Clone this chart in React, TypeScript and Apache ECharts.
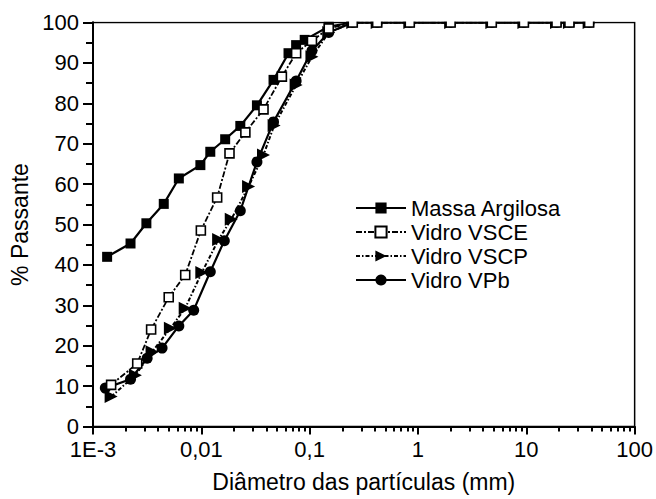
import React, { useEffect, useRef } from "react";
import * as echarts from "echarts";

// Particle-size distributions (diameter in mm, cumulative % passing)
const massaDiam = [0.00135, 0.00222, 0.00311, 0.0045, 0.0062, 0.0098, 0.0121, 0.0166, 0.0229, 0.0326, 0.0464, 0.0638, 0.075, 0.09, 0.15, 0.25, 0.42, 0.84, 2.0, 4.8, 9.5, 19, 25, 38];
const massaPass = [42.0, 45.3, 50.3, 55.1, 61.4, 64.7, 68.0, 71.1, 74.4, 79.5, 85.8, 92.4, 94.4, 95.7, 99.0, 100, 100, 100, 100, 100, 100, 100, 100, 100];

const vsceDiam = [0.00147, 0.00256, 0.00344, 0.005, 0.0071, 0.0099, 0.014, 0.0182, 0.0255, 0.0375, 0.0554, 0.075, 0.105, 0.15, 0.25, 0.42, 0.84, 2.0, 4.8, 9.5, 19, 25, 38];
const vscePass = [10.3, 15.6, 24.0, 32.0, 37.5, 48.5, 56.7, 67.6, 72.8, 78.5, 86.6, 92.4, 95.5, 98.5, 100, 100, 100, 100, 100, 100, 100, 100, 100];

const vscpDiam = [0.00147, 0.00246, 0.00351, 0.00518, 0.0071, 0.0101, 0.01445, 0.0189, 0.0273, 0.0375, 0.047, 0.075, 0.105, 0.15, 0.25, 0.42, 0.84, 2.0, 4.8, 9.5, 19, 25, 38];
const vscpPass = [7.4, 12.7, 18.5, 24.3, 29.3, 38.1, 46.3, 51.3, 59.4, 67.2, 74.5, 84.5, 91.5, 97.5, 100, 100, 100, 100, 100, 100, 100, 100, 100];

const vpbDiam = [0.0013, 0.00222, 0.00316, 0.00434, 0.0062, 0.0085, 0.0121, 0.0163, 0.0229, 0.0326, 0.0464, 0.075, 0.105, 0.15, 0.25, 0.42, 0.84, 2.0, 4.8, 9.5, 19, 25, 38];
const vpbPass = [9.5, 11.7, 16.9, 19.4, 24.9, 28.8, 38.3, 46.0, 53.4, 65.5, 75.4, 85.5, 93.0, 97.5, 100, 100, 100, 100, 100, 100, 100, 100, 100];

const seriesNames = ["Massa Argilosa", "Vidro VSCE", "Vidro VSCP", "Vidro VPb"];

// Decade labels of the log axis
const xTickLabels: Record<number, string> = { [-3]: "1E-3", [-2]: "0,01", [-1]: "0,1", 0: "1", 1: "10", 2: "100" };

// Minor tick positions 2..9 within each decade
const xMinorTicks: number[] = [];
for (let e = -3; e < 2; e++) {
  for (let k = 2; k <= 9; k++) xMinorTicks.push(Number((k * Math.pow(10, e)).toPrecision(3)));
}

const FONT = "'Liberation Sans', Arial, Helvetica, sans-serif";

const zip = (xs: number[], ys: number[]) => xs.map((x, i) => [x, ys[i]]);

export default function App() {
  const ref = useRef<HTMLDivElement>(null);

  useEffect(() => {
    document.body.style.margin = "0";
    const chart = echarts.init(ref.current!, undefined, { renderer: "svg" });
    const line = (w: number, type: any) => ({ color: "#000", width: w, type });
    const tickStyle = { color: "#000", width: 2 };
    chart.setOption({
      animation: false,
      backgroundColor: "#fff",
      textStyle: { fontFamily: FONT, color: "#000" },
      grid: {
        left: 93,
        right: 20,
        top: 22.5,
        bottom: 72.5,
        show: true,
        borderColor: "#000",
        borderWidth: 1.5,
        backgroundColor: "transparent",
      },
      legend: {
        orient: "vertical",
        left: 355,
        top: 196,
        padding: 0,
        itemWidth: 50,
        itemHeight: 14,
        itemGap: 0,
        data: seriesNames,
        textStyle: { fontSize: 22, fontFamily: FONT, color: "#000", lineHeight: 24 },
      },
      xAxis: [
        {
          type: "log",
          min: 0.001,
          max: 100,
          logBase: 10,
          name: "Diâmetro das partículas (mm)",
          nameLocation: "middle",
          nameGap: 44,
          nameTextStyle: { fontSize: 23, fontFamily: FONT, color: "#000" },
          axisLine: { lineStyle: { color: "#000", width: 2 } },
          axisTick: { show: true, length: 8, lineStyle: tickStyle },
          axisLabel: {
            fontSize: 22,
            fontFamily: FONT,
            color: "#000",
            margin: 12,
            formatter: (v: number) => xTickLabels[Math.round(Math.log10(v))] ?? "",
          },
          splitLine: { show: false },
        },
        {
          // minor ticks of the log axis
          type: "log",
          min: 0.001,
          max: 100,
          logBase: 10,
          position: "bottom",
          offset: 0,
          axisLine: { show: true, lineStyle: { color: "#000", width: 2 } },
          axisTick: { show: true, length: 5, customValues: xMinorTicks, lineStyle: tickStyle },
          axisLabel: { show: false },
          splitLine: { show: false },
        },
      ],
      yAxis: [
        {
          type: "value",
          min: 0,
          max: 100,
          interval: 10,
          name: "% Passante",
          nameLocation: "middle",
          nameGap: 49,
          nameTextStyle: { fontSize: 23, fontFamily: FONT, color: "#000" },
          axisLine: { show: true, onZero: false, lineStyle: { color: "#000", width: 2 } },
          axisTick: { show: true, length: 10, lineStyle: tickStyle },
          axisLabel: { fontSize: 22, fontFamily: FONT, color: "#000", margin: 14 },
          splitLine: { show: false },
        },
        {
          // minor ticks every 5 %
          type: "value",
          min: 0,
          max: 100,
          interval: 5,
          position: "left",
          offset: 0,
          axisLine: { show: true, onZero: false, lineStyle: { color: "#000", width: 2 } },
          axisTick: { show: true, length: 7, lineStyle: tickStyle },
          axisLabel: { show: false },
          splitLine: { show: false },
        },
      ],
      graphic: [
        {
          type: "rect",
          z: 100,
          shape: { x: 94, y: 0, width: 560, height: 21.6 },
          style: { fill: "#fff" },
        },
      ],
      series: [
        {
          name: seriesNames[0],
          type: "line",
          data: zip(massaDiam, massaPass),
          symbol: "rect",
          symbolSize: 10,
          itemStyle: { color: "#000" },
          lineStyle: line(2.2, "solid"),
          z: 4,
        },
        {
          name: seriesNames[1],
          type: "line",
          data: zip(vsceDiam, vscePass),
          symbol: "rect",
          symbolSize: 9,
          itemStyle: { color: "#fff", borderColor: "#000", borderWidth: 1.6 },
          lineStyle: line(1.8, [6, 2, 2, 2]),
          z: 5,
        },
        {
          name: seriesNames[2],
          type: "line",
          data: zip(vscpDiam, vscpPass),
          symbol: "triangle",
          symbolRotate: -90,
          symbolSize: 13,
          itemStyle: { color: "#000" },
          lineStyle: line(2, [4, 2, 1.5, 2]),
          z: 3,
        },
        {
          name: seriesNames[3],
          type: "line",
          data: zip(vpbDiam, vpbPass),
          symbol: "circle",
          symbolSize: 11,
          itemStyle: { color: "#000" },
          lineStyle: line(2.2, "solid"),
          z: 2,
        },
      ],
    });
    return () => chart.dispose();
  }, []);

  return <div ref={ref} style={{ width: 656, height: 499, position: "absolute", left: 0, top: 0 }} />;
}
